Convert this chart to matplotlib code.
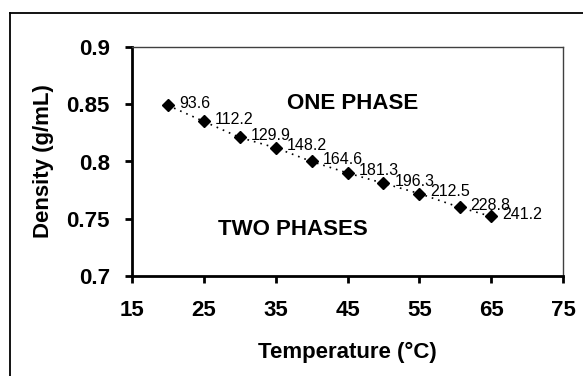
import matplotlib.pyplot as plt
from matplotlib.lines import Line2D

plt.rcParams['font.family'] = ['Liberation Sans', 'DejaVu Sans']

temperature = [20, 25, 30, 35, 40, 45, 50, 55, 60.6, 65]
density = [0.849, 0.835, 0.821, 0.812, 0.800, 0.790, 0.781, 0.772, 0.760, 0.752]
pressure_labels = ['93.6', '112.2', '129.9', '148.2', '164.6',
                   '181.3', '196.3', '212.5', '228.8', '241.2']
x_ticks = [15, 25, 35, 45, 55, 65, 75]
y_ticks = [0.7, 0.75, 0.8, 0.85, 0.9]

W, H = 583, 376
fig = plt.figure(figsize=(W / 100, H / 100), dpi=100)
ax = fig.add_axes([132 / W, 1 - 276 / H, 431 / W, 229 / H])

# chart frame: only top and left edges are visible (rest is cropped)
fig.lines.append(Line2D([10 / W, 10 / W], [0, 1 - 13 / H], transform=fig.transFigure,
                        color='black', linewidth=1.3))
fig.lines.append(Line2D([10 / W, 1], [1 - 13 / H, 1 - 13 / H], transform=fig.transFigure,
                        color='black', linewidth=1.3))

ax.plot(temperature, density, linestyle=(0, (1, 3)), color='black', linewidth=1.2)
ax.plot(temperature, density, linestyle='none', marker='D', markersize=6.5,
        color='black')
for t, d, lab in zip(temperature, density, pressure_labels):
    ax.annotate(lab, (t, d), xytext=(8, 1.5), textcoords='offset points',
                fontsize=11.5, ha='left', va='center')

ax.text(45.7, 0.851, 'ONE PHASE', fontsize=16, fontweight='bold',
        ha='center', va='center')
ax.text(37.4, 0.741, 'TWO PHASES', fontsize=16, fontweight='bold',
        ha='center', va='center')

ax.set_xlim(15, 75)
ax.set_ylim(0.7, 0.9)
ax.set_xticks(x_ticks)
ax.set_yticks(y_ticks)
ax.set_xticklabels([str(v) for v in x_ticks])
ax.set_yticklabels(['0.7', '0.75', '0.8', '0.85', '0.9'])
ax.tick_params(axis='both', direction='out', length=5, width=2, labelsize=16)
ax.tick_params(axis='x', pad=12)
ax.tick_params(axis='y', pad=11)
for lab in ax.get_xticklabels() + ax.get_yticklabels():
    lab.set_fontweight('bold')

ax.spines['left'].set_linewidth(2)
ax.spines['bottom'].set_linewidth(2)
ax.spines['top'].set_linewidth(1)
ax.spines['right'].set_linewidth(1)
ax.spines['top'].set_color('#404040')
ax.spines['right'].set_color('#404040')

ax.set_xlabel('Temperature (°C)', fontsize=16, fontweight='bold', va='center')
ax.set_ylabel('Density (g/mL)', fontsize=16, fontweight='bold', va='center')
ax.xaxis.set_label_coords(0.499, (276 - 352) / 229)
ax.yaxis.set_label_coords((44 - 132) / 431, 0.5)

fig.savefig('out.png', dpi=100)
